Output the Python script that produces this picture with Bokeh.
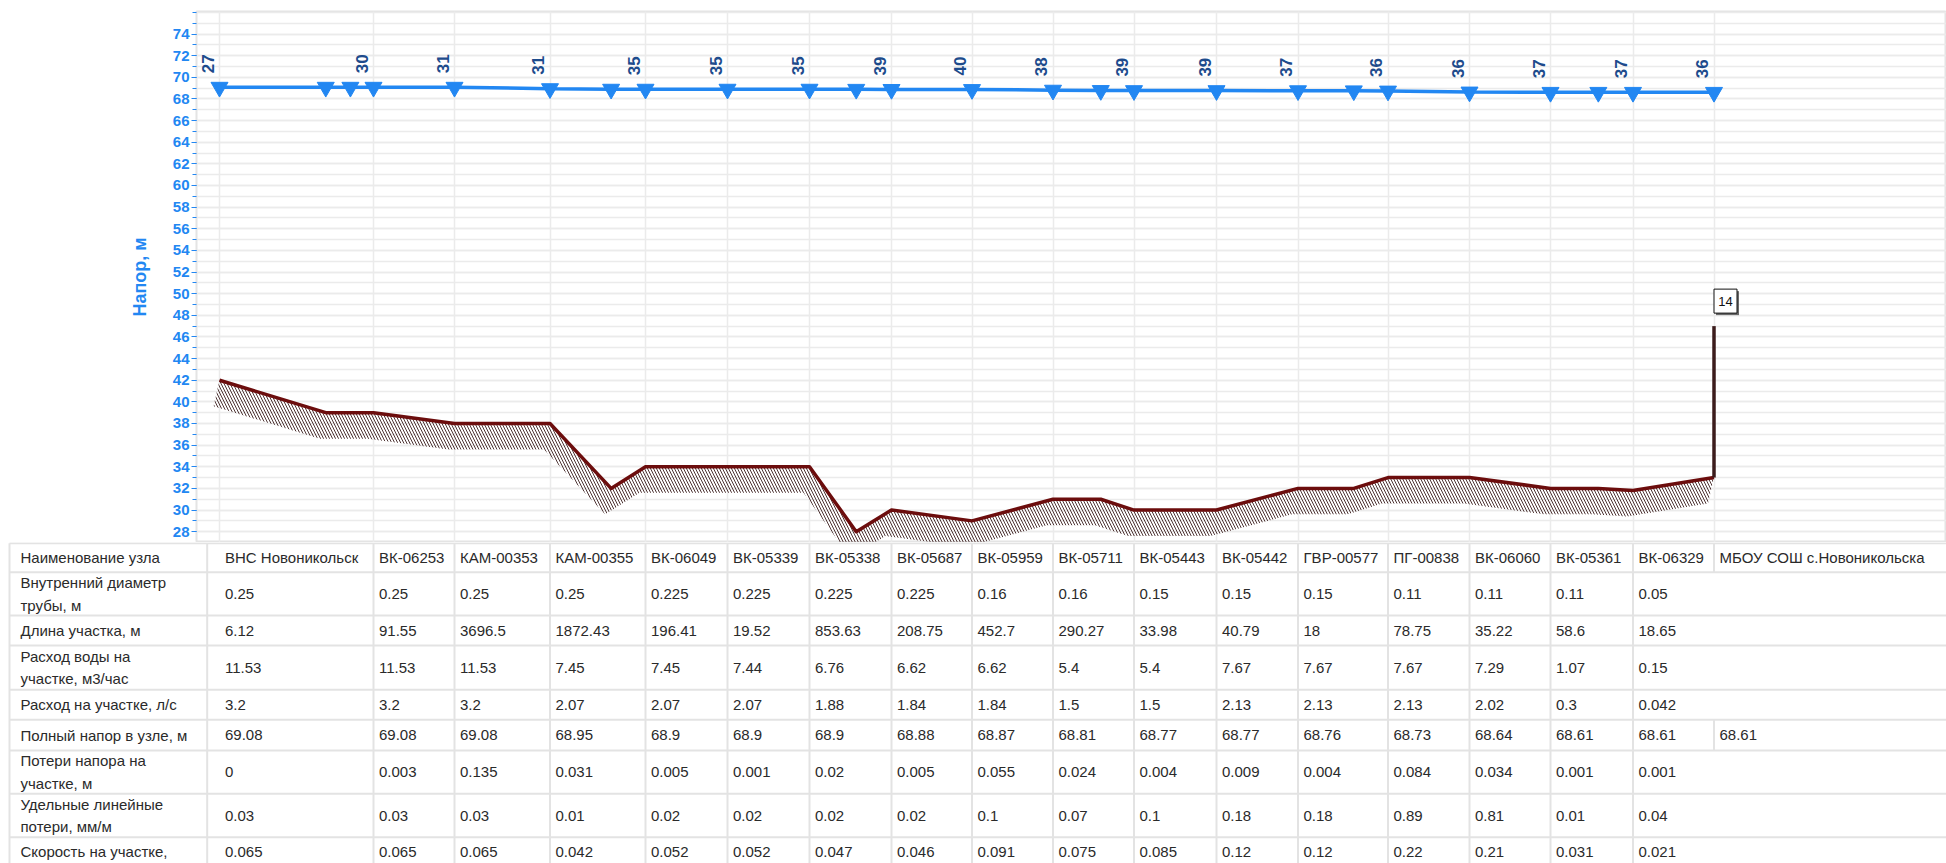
import numpy as np
from bokeh.plotting import figure
from bokeh.layouts import column
from bokeh.models import Range1d, FixedTicker
from bokeh.core.properties import value
from bokeh.embed import file_html
from bokeh.resources import INLINE

# ---------------- data ----------------
node_names = ["ВНС Новоникольск", "ВК-06253", "КАМ-00353", "КАМ-00355", "ВК-06049", "ВК-05339",
              "ВК-05338", "ВК-05687", "ВК-05959", "ВК-05711", "ВК-05443", "ВК-05442", "ГВР-00577",
              "ПГ-00838", "ВК-06060", "ВК-05361", "ВК-06329", "МБОУ СОШ с.Новоникольска"]
full_head = [69.08, 69.08, 69.08, 68.95, 68.9, 68.9, 68.9, 68.88, 68.87, 68.81, 68.77, 68.77,
             68.76, 68.73, 68.64, 68.61, 68.61, 68.61]
ground = [42, 39, 38, 38, 34, 34, 34, 30, 29, 31, 30, 30, 32, 33, 33, 32, 31.8, 33]
free_head = [27, 30, 31, 31, 35, 35, 35, 39, 40, 38, 39, 39, 37, 36, 36, 37, 37, 36]
# unlabelled intermediate nodes: segment index, relative position, head, ground
mid_segment = [0, 0, 3, 6, 9, 12, 15]
mid_fraction = [0.69, 0.85, 0.64, 0.57, 0.59, 0.62, 0.58]
mid_head = [69.08, 69.08, 68.9, 68.89, 68.78, 68.75, 68.61]
mid_ground = [39, 39, 32, 28, 31, 32, 32]
building_height = 14

row_labels = ["Наименование узла", "Внутренний диаметр\nтрубы, м", "Длина участка, м",
              "Расход воды на\nучастке, м3/час", "Расход на участке, л/с", "Полный напор в узле, м",
              "Потери напора на\nучастке, м", "Удельные линейные\nпотери, мм/м", "Скорость на участке,"]
diam = ["0.25", "0.25", "0.25", "0.25", "0.225", "0.225", "0.225", "0.225", "0.16", "0.16", "0.15",
        "0.15", "0.15", "0.11", "0.11", "0.11", "0.05"]
length = ["6.12", "91.55", "3696.5", "1872.43", "196.41", "19.52", "853.63", "208.75", "452.7",
          "290.27", "33.98", "40.79", "18", "78.75", "35.22", "58.6", "18.65"]
flow_m3h = ["11.53", "11.53", "11.53", "7.45", "7.45", "7.44", "6.76", "6.62", "6.62", "5.4", "5.4",
            "7.67", "7.67", "7.67", "7.29", "1.07", "0.15"]
flow_ls = ["3.2", "3.2", "3.2", "2.07", "2.07", "2.07", "1.88", "1.84", "1.84", "1.5", "1.5", "2.13",
           "2.13", "2.13", "2.02", "0.3", "0.042"]
head_txt = ["69.08", "69.08", "69.08", "68.95", "68.9", "68.9", "68.9", "68.88", "68.87", "68.81",
            "68.77", "68.77", "68.76", "68.73", "68.64", "68.61", "68.61", "68.61"]
head_loss = ["0", "0.003", "0.135", "0.031", "0.005", "0.001", "0.02", "0.005", "0.055", "0.024",
             "0.004", "0.009", "0.004", "0.084", "0.034", "0.001", "0.001"]
spec_loss = ["0.03", "0.03", "0.03", "0.01", "0.02", "0.02", "0.02", "0.02", "0.1", "0.07", "0.1",
             "0.18", "0.18", "0.89", "0.81", "0.01", "0.04"]
velocity = ["0.065", "0.065", "0.065", "0.042", "0.052", "0.052", "0.047", "0.046", "0.091", "0.075",
            "0.085", "0.12", "0.12", "0.22", "0.21", "0.031", "0.021"]
y_ticks = list(range(28, 75, 2))

# ---------------- layout (page pixels) ----------------
PAGE_W, PAGE_H = 1946, 863
FRAME_LEFT = 196
FRAME_TOP = 11
CHART_H = 542
TABLE_H = PAGE_H - CHART_H
Y_MIN, Y_MAX = 27.0, 76.08
FIRST_NODE = 219
col_widths = [154, 81, 95.5, 95.5, 82, 82, 82, 80.5, 81, 81, 82.5, 81.5, 90, 81.5, 81, 82.5, 81]
node_x = [float(v) for v in np.cumsum([FIRST_NODE] + col_widths)]
LABEL_COL_RIGHT = 206.7
row_edges = [542.7, 571.7, 615, 645, 689.3, 719.3, 750, 793.3, 836.7, 880]

FONT = value("Liberation Sans")
BLUE = "#2287f2"
BROWN = "#6c0d0d"
GRID = "#ebebeb"

# profile with intermediate nodes
px, ph, pg = [], [], []
for i in range(len(node_x)):
    px.append(node_x[i]); ph.append(full_head[i]); pg.append(ground[i])
    mids = sorted([k for k in range(len(mid_segment)) if mid_segment[k] == i], key=lambda k: mid_fraction[k])
    for k in mids:
        px.append(node_x[i] + mid_fraction[k] * (node_x[i + 1] - node_x[i]))
        ph.append(mid_head[k]); pg.append(mid_ground[k])

# ---------------- chart ----------------
p = figure(width=PAGE_W, height=CHART_H, output_backend="svg", toolbar_location=None,
           x_range=Range1d(FRAME_LEFT, PAGE_W), y_range=Range1d(Y_MIN, Y_MAX),
           x_axis_location=None, min_border_left=FRAME_LEFT, min_border_right=0,
           min_border_top=FRAME_TOP, min_border_bottom=0, background_fill_color="white",
           border_fill_color="white", outline_line_color="#e4e4e4", outline_line_width=2,
           frame_align=False)
px_per_unit = (CHART_H - FRAME_TOP) / (Y_MAX - Y_MIN)

p.yaxis.ticker = FixedTicker(ticks=y_ticks, minor_ticks=list(range(27, 77)))
p.yaxis.axis_line_color = None
p.yaxis.major_tick_line_color = BLUE
p.yaxis.minor_tick_line_color = BLUE
p.yaxis.major_tick_out = 5
p.yaxis.major_tick_in = 0
p.yaxis.minor_tick_out = 4
p.yaxis.minor_tick_in = 0
p.yaxis.major_label_text_color = BLUE
p.yaxis.major_label_text_font = "Liberation Sans"
p.yaxis.major_label_text_font_style = "bold"
p.yaxis.major_label_text_font_size = "15px"
p.yaxis.major_label_standoff = 2
p.yaxis.axis_label = "Напор, м"
p.yaxis.axis_label_text_color = BLUE
p.yaxis.axis_label_text_font = "Liberation Sans"
p.yaxis.axis_label_text_font_style = "bold"
p.yaxis.axis_label_text_font_size = "18px"
p.yaxis.axis_label_standoff = 20

p.ygrid.grid_line_color = GRID
p.ygrid.grid_line_width = 1.5
p.ygrid.minor_grid_line_color = GRID
p.ygrid.minor_grid_line_width = 1.5
p.xgrid.ticker = FixedTicker(ticks=node_x)
p.xgrid.grid_line_color = GRID
p.xgrid.grid_line_width = 1.5

# hatched band under ground line
dx, dy = -6, -2.4
hx = px + [x + dx for x in px[::-1]]
hy = pg + [g + dy for g in pg[::-1]]
p.patch(hx, hy, fill_color=None, line_color=None, hatch_pattern="left_diagonal_line",
        hatch_color="#4e3434", hatch_scale=6, hatch_weight=1)

p.line(px, pg, line_color=BROWN, line_width=3.5, line_join="round")
spike_top = ground[-1] + building_height
p.segment(x0=[node_x[-1]], y0=[ground[-1]], x1=[node_x[-1]], y1=[spike_top],
          line_color="#3c1c1c", line_width=3.5)

# box with building height
bx = node_x[-1] + 11.5
by = spike_top + 25 / px_per_unit
p.rect(x=[bx + 2], y=[by - 2 / px_per_unit], width=23, height=24, width_units="screen",
       height_units="screen", fill_color="#6a6a6a", line_color=None)
p.rect(x=[bx], y=[by], width=23, height=24, width_units="screen", height_units="screen",
       fill_color="white", line_color="#111111", line_width=1)
p.text(x=[bx], y=[by], text=[str(building_height)], text_font=FONT, text_font_size="13px",
       text_align="center", text_baseline="middle", text_color="#111111")

# hydraulic head line
p.line(px, ph, line_color=BLUE, line_width=3.5)
p.scatter(px, ph, marker="inverted_triangle", size=17, fill_color=BLUE, line_color=BLUE)
p.text(x=node_x, y=full_head, text=[str(v) for v in free_head], angle=np.pi / 2,
       x_offset=-12, y_offset=-14, text_align="left", text_baseline="middle",
       text_font=FONT, text_font_style="bold", text_font_size="17px", text_color="#1d4b8c")

# ---------------- table ----------------
t = figure(width=PAGE_W, height=TABLE_H, output_backend="svg", toolbar_location=None,
           x_range=Range1d(0, PAGE_W), y_range=Range1d(PAGE_H, CHART_H),
           x_axis_location=None, y_axis_location=None, min_border=0, frame_align=False,
           outline_line_color=None, background_fill_color="white", border_fill_color="white")
t.grid.visible = False

LINE = "#e3e3e3"
t.segment(x0=[9] * len(row_edges), y0=row_edges, x1=[PAGE_W] * len(row_edges), y1=row_edges,
          line_color=LINE, line_width=2)
vx = [9, LABEL_COL_RIGHT] + node_x[1:-1]
t.segment(x0=vx, y0=[row_edges[0]] * len(vx), x1=vx, y1=[row_edges[-1]] * len(vx),
          line_color=LINE, line_width=2)
for r in (0, 5):
    t.segment(x0=[node_x[-1]], y0=[row_edges[r]], x1=[node_x[-1]], y1=[row_edges[r + 1]],
              line_color=LINE, line_width=2)

# text line position per row (last row is cut by the page edge: first line only)
centers = [(row_edges[i] + row_edges[i + 1]) / 2 for i in range(len(row_edges) - 1)]
centers[-1] = row_edges[-2] + 14.5
t.text(x=[20] * len(row_labels), y=centers, text=row_labels, text_font=FONT,
       text_font_size="15px", text_align="left", text_baseline="middle",
       text_color="#2a2a2a", text_line_height=1.33)
rows = [node_names, diam, length, flow_m3h, flow_ls, head_txt, head_loss, spec_loss, velocity]
for r, vals in enumerate(rows):
    t.text(x=[node_x[i] + 5.5 for i in range(len(vals))], y=[centers[r]] * len(vals), text=vals,
           text_font=FONT, text_font_size="15px", text_align="left", text_baseline="middle",
           text_color="#2a2a2a")

layout = column(p, t, spacing=0)
open("out.html", "w").write(file_html(layout, INLINE))
